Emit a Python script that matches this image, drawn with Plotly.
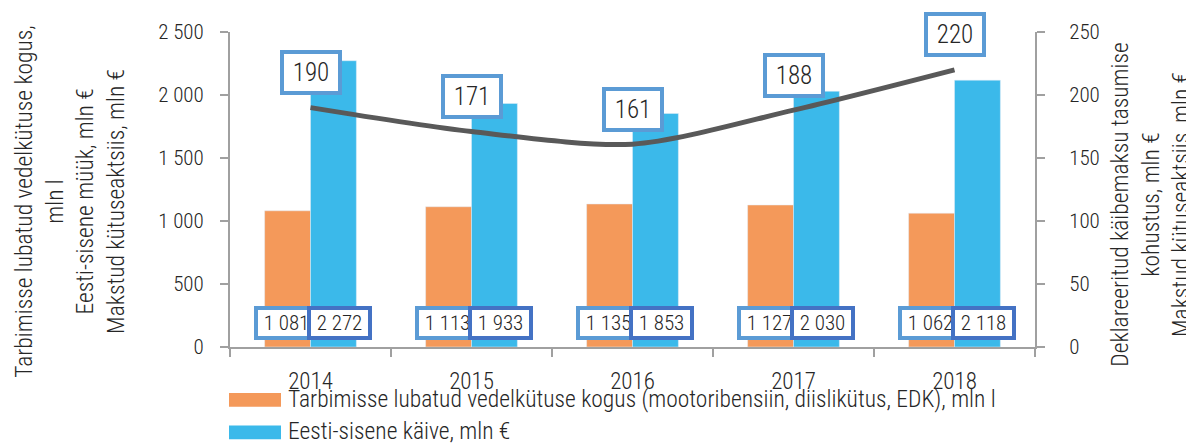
import plotly.graph_objects as go

years = ["2014", "2015", "2016", "2017", "2018"]
fuel_volume = [1081, 1113, 1135, 1127, 1062]
domestic_turnover = [2272, 1933, 1853, 2030, 2118]
vat_liability = [190, 171, 161, 188, 220]

legend_labels = [
    "Tarbimisse lubatud vedelkütuse kogus (mootoribensiin, diislikütus, EDK), mln l",
    "Eesti-sisene käive, mln €",
]
left_title = "Tarbimisse lubatud vedelkütuse kogus,<br>mln l<br>Eesti-sisene müük, mln €<br>Makstud kütuseaktsiis, mln €"
right_title = "Deklareeritud käibemaksu tasumise<br>kohustus, mln €<br>Makstud kütuseaktsiis, mln €"

ORANGE = "#F4995A"
BLUE = "#3BB9EA"
LINE = "#595959"
BORDER_LIGHT = "#5B9BD5"
BORDER_DARK = "#4472C4"
TXT = "#262626"
AX = "#A0A0A0"
FONT = "Roboto Condensed"
WT = 300

def fmt(v):
    return f"{v:,}".replace(",", " ")

def fnt(size):
    return dict(size=size, color=TXT, family=FONT, weight=WT)

# page offset (browser body margin)
OFF = 8
W, H = 1194 - OFF, 443 - OFF
# plot area in page pixels
L, R, T, B = 230, 1035, 26, 347

def px_x(p):
    return (p - L) / (R - L)

def px_y(p):
    return (B - p) / (B - T)

fig = go.Figure()
fig.add_trace(go.Bar(x=years, y=fuel_volume, marker_color=ORANGE, name=legend_labels[0]))
fig.add_trace(go.Bar(x=years, y=domestic_turnover, marker_color=BLUE, name=legend_labels[1]))
fig.add_trace(go.Scatter(x=years, y=vat_liability, yaxis="y2", mode="lines",
                         line=dict(color=LINE, width=5, shape="spline", smoothing=0.8)))

NB = "\u00a0"
ann = []
for i, v in enumerate(fuel_volume):
    ann.append(dict(x=i, y=0, xref="x", yref="y", text=NB + fmt(v) + NB, showarrow=False,
                    xshift=-24, yshift=7, yanchor="bottom", xanchor="center",
                    font=fnt(21), bgcolor="white",
                    bordercolor=BORDER_LIGHT, borderwidth=4, borderpad=1))
for i, v in enumerate(domestic_turnover):
    ann.append(dict(x=i, y=0, xref="x", yref="y", text=NB + fmt(v) + NB, showarrow=False,
                    xshift=28.5, yshift=7, yanchor="bottom", xanchor="center",
                    font=fnt(21), bgcolor="white",
                    bordercolor=BORDER_DARK, borderwidth=4, borderpad=1))
TH = "\u2009"
for i, v in enumerate(vat_liability):
    ann.append(dict(x=i, y=v, xref="x", yref="y2", text=TH + str(v) + TH, showarrow=False,
                    yshift=35, yanchor="middle", xanchor="center",
                    font=fnt(25), bgcolor="white",
                    bordercolor=BORDER_LIGHT, borderwidth=4, borderpad=4))

ann.append(dict(x=px_x(70), y=px_y(199), xref="paper", yref="paper", text=left_title,
                textangle=-90, showarrow=False, xanchor="center", yanchor="middle", align="center",
                font=fnt(23.5)))
ann.append(dict(x=px_x(1151), y=px_y(202), xref="paper", yref="paper", text=right_title,
                textangle=-90, showarrow=False, xanchor="center", yanchor="middle", align="center",
                font=fnt(23.5)))

shapes = []
for i, (lab, col) in enumerate(zip(legend_labels, [ORANGE, BLUE])):
    cy = 400 + 33 * i
    shapes.append(dict(type="rect", xref="paper", yref="paper", x0=px_x(229), x1=px_x(281),
                       y0=px_y(cy + 8), y1=px_y(cy - 6), fillcolor=col, line=dict(width=0)))
    ann.append(dict(x=px_x(286), y=px_y(cy), xref="paper", yref="paper", text=lab,
                    showarrow=False, xanchor="left", yanchor="middle",
                    font=fnt(23.5)))

fig.update_layout(
    width=W, height=H,
    margin=dict(l=L - OFF, r=W - (R - OFF), t=T - OFF, b=H - (B - OFF), pad=0),
    paper_bgcolor="white", plot_bgcolor="white",
    barmode="group", bargap=0.43, bargroupgap=0,
    showlegend=False,
    font=dict(family=FONT, color=TXT, weight=WT),
    xaxis=dict(type="category", range=[-0.5, 4.5], showline=True, linecolor=AX, linewidth=2,
               ticks="outside", tickson="boundaries", ticklen=8, tickcolor=AX, tickwidth=2,
               tickfont=fnt(23), showgrid=False, ticklabelstandoff=12),
    yaxis=dict(range=[0, 2500], tickvals=[0, 500, 1000, 1500, 2000, 2500],
               ticktext=["0", "500", "1 000", "1 500", "2 000", "2 500"],
               showline=True, linecolor=AX, linewidth=2, ticks="outside", ticklen=8,
               tickcolor=AX, tickwidth=2, showgrid=False, zeroline=False,
               tickfont=fnt(21), ticklabelstandoff=12),
    yaxis2=dict(range=[0, 250], tickvals=[0, 50, 100, 150, 200, 250], overlaying="y", side="right",
                showline=True, linecolor=AX, linewidth=2, ticks="outside", ticklen=8,
                tickcolor=AX, tickwidth=2, showgrid=False, zeroline=False,
                tickfont=fnt(21), ticklabelstandoff=20),
    annotations=ann, shapes=shapes,
)

fig.write_html("out.html")
